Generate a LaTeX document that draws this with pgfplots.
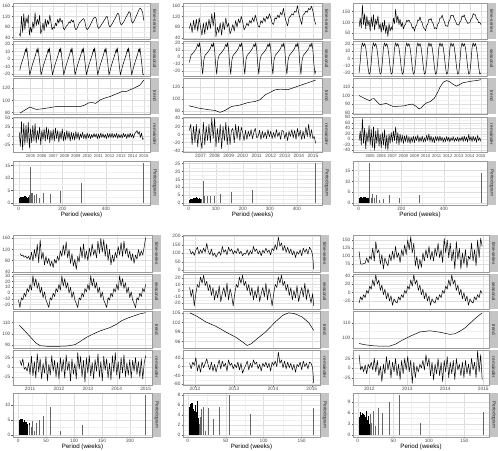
\documentclass[border=0pt]{standalone}
\usepackage{fontspec}
\setmainfont{Liberation Sans}
\usepackage{pgfplots}
\pgfplotsset{compat=1.18}
\pgfplotsset{
 gg/.style={scale only axis, anchor=north west, axis background/.style={fill=white},
  axis line style={black!40, line width=0.4pt},
  grid=both, minor tick num=1,
  major grid style={black!13, line width=0.35pt}, minor grid style={black!6, line width=0.2pt},
  tick pos=left, tick align=outside, major tick length=1.5bp, minor tick length=0pt,
  tick style={black!65, line width=0.35pt},
  /pgf/number format/assume math mode=true,
  /pgf/number format/1000 sep={},
  ticklabel style={font=\fontsize{4.8}{4.8}\selectfont, text=black!70},
  xticklabel style={inner sep=0.7pt}, yticklabel style={inner sep=0.9pt}},
 strip/.style={extra description/.append code={
   \fill[black!23] ([xshift=1.2bp]axis description cs:1,0) rectangle ([xshift=8.6bp]axis description cs:1,1);
   \node[rotate=-90, font=\fontsize{4.7}{4.7}\selectfont, text=black!85, inner sep=0pt] at ([xshift=4.9bp]axis description cs:1,0.5) {#1};}},
 noxt/.style={xticklabels={}, xtick style={draw=none}},
 smallx/.style={xticklabel style={font=\fontsize{4.2}{4.2}\selectfont, inner sep=0.7pt}},
 per/.style={xlabel={Period (weeks)}, xlabel style={font=\fontsize{6.2}{6.2}\selectfont, inner sep=0pt, yshift=-0.3bp}},
 ln/.style={black, line width=0.5bp, line join=round},
 bar/.style={ycomb, black!60, line width=0.6bp},
 blk/.style={ycomb, black, line width=0.45bp},
}
\begin{document}
\begin{tikzpicture}
\useasboundingbox (0,0) rectangle (498bp,451bp);
% ================= Panel A (top-left) =================
\begin{axis}[gg, noxt, strip=time-series, at={(13bp,448bp)}, width=137bp, height=36bp,
 xmin=2003.45, xmax=2015.55, xtick={2005,...,2015}, ymin=35, ymax=171, ytick={40,80,120,160}]
\addplot[ln] coordinates {(2004.0,55)(2004.1,45)(2004.2,120)(2004.3,60)(2004.4,130)(2004.5,70)(2004.6,115)(2004.7,95)(2004.8,125)(2004.9,50)
(2005.0,80)(2005.1,60)(2005.2,100)(2005.3,75)(2005.4,135)(2005.5,85)(2005.6,110)(2005.7,90)(2005.8,125)(2005.9,55)
(2006.0,70)(2006.1,95)(2006.2,65)(2006.3,110)(2006.4,80)(2006.5,105)(2006.6,90)(2006.7,125)(2006.8,100)(2006.9,70)
(2007.0,80)(2007.1,75)(2007.2,95)(2007.3,85)(2007.4,110)(2007.5,95)(2007.6,115)(2007.7,100)(2007.8,105)(2007.9,75)
(2008.0,70)(2008.1,80)(2008.2,85)(2008.3,90)(2008.4,100)(2008.5,95)(2008.6,108)(2008.7,100)(2008.8,105)(2008.9,80)
(2009.0,70)(2009.1,75)(2009.2,85)(2009.3,95)(2009.4,100)(2009.5,105)(2009.6,110)(2009.7,112)(2009.8,100)(2009.9,78)
(2010.0,70)(2010.1,75)(2010.2,82)(2010.3,90)(2010.4,100)(2010.5,108)(2010.6,115)(2010.7,118)(2010.8,112)(2010.9,85)
(2011.0,75)(2011.1,78)(2011.2,85)(2011.3,92)(2011.4,98)(2011.5,105)(2011.6,112)(2011.7,120)(2011.8,118)(2011.9,90)
(2012.0,80)(2012.1,85)(2012.2,92)(2012.3,100)(2012.4,108)(2012.5,115)(2012.6,125)(2012.7,132)(2012.8,128)(2012.9,100)
(2013.0,88)(2013.1,92)(2013.2,98)(2013.3,105)(2013.4,115)(2013.5,122)(2013.6,130)(2013.7,138)(2013.8,135)(2013.9,105)
(2014.0,95)(2014.1,100)(2014.2,108)(2014.3,118)(2014.4,128)(2014.5,138)(2014.6,148)(2014.7,152)(2014.8,145)(2014.9,135)(2015.0,105)};
\end{axis}
\begin{axis}[gg, noxt, strip=seasonal, at={(13bp,410bp)}, width=137bp, height=35bp,
 xmin=2003.45, xmax=2015.55, xtick={2005,...,2015}, ymin=-22.5, ymax=24, ytick={-20,-10,0,10,20}]
\addplot[ln] coordinates {(2004.05,-15)(2004.15,-8)(2004.3,-1)(2004.45,6)(2004.56,13)(2004.61,9)(2004.66,15)(2004.8,-3)(2004.93,-21)
(2005,-17)(2005.15,-8)(2005.3,-1)(2005.45,6)(2005.56,13)(2005.61,9)(2005.66,15)(2005.8,-3)(2005.93,-21)
(2006,-17)(2006.15,-8)(2006.3,-1)(2006.45,6)(2006.56,13)(2006.61,9)(2006.66,15)(2006.8,-3)(2006.93,-21)
(2007,-17)(2007.15,-8)(2007.3,-1)(2007.45,6)(2007.56,13)(2007.61,9)(2007.66,15)(2007.8,-3)(2007.93,-21)
(2008,-17)(2008.15,-8)(2008.3,-1)(2008.45,6)(2008.56,13)(2008.61,9)(2008.66,15)(2008.8,-3)(2008.93,-21)
(2009,-17)(2009.15,-8)(2009.3,-1)(2009.45,6)(2009.56,13)(2009.61,9)(2009.66,15)(2009.8,-3)(2009.93,-21)
(2010,-17)(2010.15,-8)(2010.3,-1)(2010.45,6)(2010.56,13)(2010.61,9)(2010.66,15)(2010.8,-3)(2010.93,-21)
(2011,-17)(2011.15,-8)(2011.3,-1)(2011.45,6)(2011.56,13)(2011.61,9)(2011.66,15)(2011.8,-3)(2011.93,-21)
(2012,-17)(2012.15,-8)(2012.3,-1)(2012.45,6)(2012.56,13)(2012.61,9)(2012.66,15)(2012.8,-3)(2012.93,-21)
(2013,-17)(2013.15,-8)(2013.3,-1)(2013.45,6)(2013.56,13)(2013.61,9)(2013.66,15)(2013.8,-3)(2013.93,-21)
(2014,-17)(2014.15,-8)(2014.3,-1)(2014.45,6)(2014.56,13)(2014.61,9)(2014.66,15)(2014.8,-3)(2014.93,-21)(2015,-20)};
\end{axis}
\begin{axis}[gg, noxt, strip=trend, at={(13bp,373bp)}, width=137bp, height=36bp,
 xmin=2003.45, xmax=2015.55, xtick={2005,...,2015}, ymin=77.5, ymax=137, ytick={80,100,120}]
\addplot[ln] coordinates {(2004.07,79)(2004.5,84)(2004.94,89)(2005.2,87)(2005.52,85)(2006.0,86)(2006.54,87.5)(2007.0,89)(2007.41,90)(2008.4,90.3)(2009.43,90)(2009.8,92.5)(2010.16,96)(2010.45,96.5)(2010.74,95)(2011.17,101)(2011.6,104)(2012.04,106.5)(2012.55,110.5)(2013.06,114.5)(2013.5,115)(2014.1,120)(2014.65,125)(2015.0,133.5)};
\end{axis}
\begin{axis}[gg, smallx, strip=remainder, at={(13bp,334bp)}, width=137bp, height=35bp,
 xmin=2003.45, xmax=2015.55, xtick={2005,...,2015}, ymin=-46, ymax=53.5, ytick={-25,0,25,50}]
\addplot[ln] coordinates {(2004.0,10)(2004.1,-30)(2004.2,40)(2004.3,-40)(2004.4,35)(2004.5,-25)(2004.6,30)(2004.7,-20)(2004.8,38)(2004.9,-35)
(2005.0,20)(2005.1,-20)(2005.2,30)(2005.3,-15)(2005.4,35)(2005.5,-20)(2005.6,15)(2005.7,-10)(2005.8,25)(2005.9,-25)
(2006.0,15)(2006.1,-10)(2006.2,20)(2006.3,-15)(2006.4,25)(2006.5,-10)(2006.6,20)(2006.7,-20)(2006.8,15)(2006.9,-12)
(2007.0,18)(2007.1,-15)(2007.2,22)(2007.3,-8)(2007.4,15)(2007.5,-18)(2007.6,12)(2007.7,-10)(2007.8,20)(2007.9,-15)
(2008.0,10)(2008.1,-12)(2008.2,15)(2008.3,-8)(2008.4,12)(2008.5,-15)(2008.6,10)(2008.7,-10)(2008.8,8)(2008.9,-12)
(2009.0,12)(2009.1,-8)(2009.2,10)(2009.3,-12)(2009.4,6)(2009.5,-5)(2009.6,10)(2009.7,-8)(2009.8,5)(2009.9,-10)
(2010.0,8)(2010.1,-6)(2010.2,5)(2010.3,-8)(2010.4,4)(2010.5,-5)(2010.6,7)(2010.7,-4)(2010.8,6)(2010.9,-8)
(2011.0,5)(2011.1,-7)(2011.2,8)(2011.3,-5)(2011.4,6)(2011.5,-6)(2011.6,4)(2011.7,-8)(2011.8,7)(2011.9,-5)
(2012.0,6)(2012.1,-5)(2012.2,8)(2012.3,-6)(2012.4,5)(2012.5,-4)(2012.6,7)(2012.7,-7)(2012.8,5)(2012.9,-6)
(2013.0,4)(2013.1,-6)(2013.2,7)(2013.3,-3)(2013.4,5)(2013.5,-8)(2013.6,6)(2013.7,-5)(2013.8,8)(2013.9,-4)
(2014.0,5)(2014.1,-6)(2014.2,6)(2014.3,10)(2014.4,15)(2014.5,5)(2014.6,12)(2014.7,-5)(2014.8,8)(2014.9,-10)(2015.0,-8)};
\end{axis}
\begin{axis}[gg, per, strip=Periodogram, at={(13bp,290bp)}, width=137bp, height=44bp,
 xmin=-26.6, xmax=602.6, xtick={0,200,400}, ymin=-0.8, ymax=16.8, ytick={0,5,10,15}]
\addplot[blk] coordinates {(2,1.5)(3,1.8)(4,2)(5,1.2)(6,2.1)(7,1.6)(8,2.2)(9,1.9)(10,1.4)(11,2)(12,1.7)(13,2.3)(14,1.5)(15,2.1)(16,1.8)(17,2.4)(18,1.3)(19,2)(20,2.5)(21,1.6)(22,2.2)(23,1.8)(24,2.6)(25,1.5)(26,2)(27,2.3)(28,1.2)(29,2.1)(30,2.7)(31,1.4)(32,1.9)(33,2.4)(34,1.6)(35,1.1)(36,2)(38,1.5)(40,1.9)(42,1.3)(44,2.2)};
\addplot[bar] coordinates {(47.8,3.3)(52.2,14.5)(57.4,4)(63.8,3.8)(71.75,3.2)(82,3.5)(95.7,2)(114.8,3.8)(143.5,3.7)(191.3,4.8)(287,7.8)(574,16)};
\end{axis}
% ================= Panel B (top-middle) =================
\begin{axis}[gg, noxt, strip=time-series, at={(183bp,448bp)}, width=139bp, height=36bp,
 xmin=2005.75, xmax=2015.65, xtick={2007,...,2015}, ymin=36, ymax=170, ytick={40,80,120,160}]
\addplot[ln] coordinates {(2006.2,75)(2006.3,95)(2006.4,60)(2006.5,105)(2006.6,70)(2006.7,110)(2006.8,65)(2006.9,115)
(2007.0,80)(2007.1,50)(2007.2,95)(2007.3,55)(2007.4,100)(2007.5,70)(2007.6,110)(2007.7,75)(2007.8,130)(2007.9,85)
(2008.0,135)(2008.1,45)(2008.2,80)(2008.3,60)(2008.4,95)(2008.5,50)(2008.6,100)(2008.7,70)(2008.8,115)(2008.9,80)
(2009.0,95)(2009.1,55)(2009.2,70)(2009.3,90)(2009.4,65)(2009.5,105)(2009.6,80)(2009.7,110)(2009.8,95)(2009.9,120)
(2010.0,100)(2010.1,70)(2010.2,80)(2010.3,95)(2010.4,85)(2010.5,105)(2010.6,95)(2010.7,115)(2010.8,100)(2010.9,125)
(2011.0,105)(2011.1,85)(2011.2,80)(2011.3,105)(2011.4,95)(2011.5,115)(2011.6,100)(2011.7,120)(2011.8,110)(2011.9,130)
(2012.0,115)(2012.1,95)(2012.2,90)(2012.3,115)(2012.4,110)(2012.5,125)(2012.6,115)(2012.7,135)(2012.8,125)(2012.9,150)
(2013.0,120)(2013.1,100)(2013.2,85)(2013.3,115)(2013.4,120)(2013.5,130)(2013.6,125)(2013.7,140)(2013.8,135)(2013.9,160)
(2014.0,130)(2014.1,110)(2014.2,90)(2014.3,125)(2014.4,130)(2014.5,140)(2014.6,135)(2014.7,150)(2014.8,145)(2014.9,158)
(2015.0,140)(2015.1,110)(2015.2,90)};
\end{axis}
\begin{axis}[gg, noxt, strip=seasonal, at={(183bp,410bp)}, width=139bp, height=35bp,
 xmin=2005.75, xmax=2015.65, xtick={2007,...,2015}, ymin=-27.5, ymax=22.5, ytick={-20,-10,0,10,20}]
\addplot[ln] coordinates {(2006.2,-8)(2006.32,2)(2006.45,5)(2006.57,8)(2006.7,12)(2006.8,18)(2006.87,14)(2006.93,20)(2007,10)(2007.07,-10)
(2007.15,-25)(2007.23,-5)(2007.32,2)(2007.45,5)(2007.57,8)(2007.7,12)(2007.8,18)(2007.87,14)(2007.93,20)(2008,10)(2008.07,-10)
(2008.15,-25)(2008.23,-5)(2008.32,2)(2008.45,5)(2008.57,8)(2008.7,12)(2008.8,18)(2008.87,14)(2008.93,20)(2009,10)(2009.07,-10)
(2009.15,-25)(2009.23,-5)(2009.32,2)(2009.45,5)(2009.57,8)(2009.7,12)(2009.8,18)(2009.87,14)(2009.93,20)(2010,10)(2010.07,-10)
(2010.15,-25)(2010.23,-5)(2010.32,2)(2010.45,5)(2010.57,8)(2010.7,12)(2010.8,18)(2010.87,14)(2010.93,20)(2011,10)(2011.07,-10)
(2011.15,-25)(2011.23,-5)(2011.32,2)(2011.45,5)(2011.57,8)(2011.7,12)(2011.8,18)(2011.87,14)(2011.93,20)(2012,10)(2012.07,-10)
(2012.15,-25)(2012.23,-5)(2012.32,2)(2012.45,5)(2012.57,8)(2012.7,12)(2012.8,18)(2012.87,14)(2012.93,20)(2013,10)(2013.07,-10)
(2013.15,-25)(2013.23,-5)(2013.32,2)(2013.45,5)(2013.57,8)(2013.7,12)(2013.8,18)(2013.87,14)(2013.93,20)(2014,10)(2014.07,-10)
(2014.15,-25)(2014.23,-5)(2014.32,2)(2014.45,5)(2014.57,8)(2014.7,12)(2014.8,18)(2014.87,14)(2014.93,20)(2015,10)(2015.07,-10)(2015.15,-25)(2015.2,-20)};
\end{axis}
\begin{axis}[gg, noxt, strip=trend, at={(183bp,373bp)}, width=139bp, height=36bp,
 xmin=2005.75, xmax=2015.65, xtick={2007,...,2015}, ymin=75, ymax=135.5, ytick={80,100,120}]
\addplot[ln] coordinates {(2006.18,88.8)(2006.84,85)(2007.55,82.2)(2008.03,81)(2008.39,77.7)(2008.74,81)(2009.22,87.7)(2009.81,90)(2010.4,94.4)(2010.88,96)(2011.23,98.9)(2011.59,107)(2012.3,115.5)(2012.66,116.7)(2013.25,116)(2013.96,122)(2014.67,127.7)(2015.2,132)};
\end{axis}
\begin{axis}[gg, strip=remainder, at={(183bp,334bp)}, width=139bp, height=35bp,
 xmin=2005.75, xmax=2015.65, xtick={2007,...,2015}, ymin=-43, ymax=43, ytick={-40,-20,0,20,40}]
\addplot[ln] coordinates {(2006.2,10)(2006.3,25)(2006.4,-25)(2006.5,20)(2006.6,-20)(2006.7,25)(2006.8,-30)(2006.9,15)
(2007.0,-10)(2007.1,-35)(2007.2,30)(2007.3,-25)(2007.4,20)(2007.5,-15)(2007.6,25)(2007.7,-20)(2007.8,40)(2007.9,-10)
(2008.0,40)(2008.1,-30)(2008.2,15)(2008.3,-20)(2008.4,25)(2008.5,-35)(2008.6,20)(2008.7,-15)(2008.8,30)(2008.9,-25)
(2009.0,20)(2009.1,-25)(2009.2,10)(2009.3,15)(2009.4,-20)(2009.5,25)(2009.6,-10)(2009.7,20)(2009.8,-15)(2009.9,18)
(2010.0,5)(2010.1,-15)(2010.2,10)(2010.3,-12)(2010.4,8)(2010.5,-5)(2010.6,12)(2010.7,-10)(2010.8,6)(2010.9,15)
(2011.0,-8)(2011.1,-5)(2011.2,10)(2011.3,-12)(2011.4,8)(2011.5,-8)(2011.6,6)(2011.7,-10)(2011.8,12)(2011.9,-6)
(2012.0,8)(2012.1,-10)(2012.2,5)(2012.3,-8)(2012.4,12)(2012.5,-5)(2012.6,6)(2012.7,-12)(2012.8,10)(2012.9,8)
(2013.0,-10)(2013.1,5)(2013.2,-15)(2013.3,8)(2013.4,-5)(2013.5,12)(2013.6,-8)(2013.7,10)(2013.8,-12)(2013.9,15)
(2014.0,-5)(2014.1,10)(2014.2,-12)(2014.3,8)(2014.4,-10)(2014.5,18)(2014.6,-5)(2014.7,25)(2014.8,-8)(2014.9,12)
(2015.0,-10)(2015.1,-5)(2015.2,-22)};
\end{axis}
\begin{axis}[gg, per, strip=Periodogram, at={(183bp,290bp)}, width=139bp, height=44bp,
 xmin=-21.4, xmax=493.4, xtick={0,100,200,300,400}, ymin=-1.27, ymax=26.7, ytick={0,5,10,15,20,25}]
\addplot[blk] coordinates {(2,2)(3,1.5)(4,2.4)(5,1.8)(6,2.6)(7,1.2)(8,2.2)(9,2.8)(10,1.6)(11,2.3)(12,1.9)(13,2.7)(14,1.4)(15,2.1)(16,3)(17,1.7)(18,2.5)(19,2)(20,3.4)(21,1.5)(22,2.4)(23,2.9)(24,1.8)(25,2.2)(26,4)(27,1.6)(28,2.6)(29,2.1)(30,3.1)(31,1.5)(32,2.4)(33,2)(34,2.8)(35,1.7)(36,2.3)(38,3.2)(40,2)(42,2.7)};
\addplot[bar] coordinates {(47,2.5)(52.2,14.2)(58.75,4.6)(67.1,4.3)(78.3,4.7)(94,4.2)(117.5,5.5)(156.7,7)(235,8.5)(470,25.4)};
\end{axis}
% ================= Panel C (top-right) =================
\begin{axis}[gg, noxt, strip=time-series, at={(353bp,448bp)}, width=134bp, height=36bp,
 xmin=2003.45, xmax=2015.55, xtick={2005,...,2015}, ymin=24, ymax=189, ytick={50,100,150}]
\addplot[ln] coordinates {(2004.0,80)(2004.1,120)(2004.2,75)(2004.3,180)(2004.4,90)(2004.5,140)(2004.6,70)(2004.7,130)(2004.8,85)(2004.9,110)
(2005.0,60)(2005.1,125)(2005.2,80)(2005.3,135)(2005.4,65)(2005.5,115)(2005.6,90)(2005.7,130)(2005.8,70)(2005.9,95)
(2006.0,55)(2006.1,100)(2006.2,65)(2006.3,110)(2006.4,50)(2006.5,85)(2006.6,35)(2006.7,95)(2006.8,60)(2006.9,80)
(2007.0,65)(2007.1,120)(2007.2,95)(2007.3,160)(2007.4,100)(2007.5,130)(2007.6,90)(2007.7,115)(2007.8,80)(2007.9,100)
(2008.0,70)(2008.1,86)(2008.2,92)(2008.3,110)(2008.4,104)(2008.5,112)(2008.6,100)(2008.7,95)(2008.8,74)(2008.9,78)
(2009.0,60)(2009.1,82)(2009.2,88)(2009.3,112)(2009.4,108)(2009.5,125)(2009.6,105)(2009.7,98)(2009.8,76)(2009.9,72)
(2010.0,62)(2010.1,86)(2010.2,92)(2010.3,114)(2010.4,112)(2010.5,118)(2010.6,100)(2010.7,94)(2010.8,72)(2010.9,76)
(2011.0,70)(2011.1,92)(2011.2,98)(2011.3,120)(2011.4,120)(2011.5,134)(2011.6,114)(2011.7,104)(2011.8,84)(2011.9,84)
(2012.0,82)(2012.1,104)(2012.2,112)(2012.3,134)(2012.4,130)(2012.5,132)(2012.6,116)(2012.7,108)(2012.8,92)(2012.9,90)
(2013.0,88)(2013.1,102)(2013.2,108)(2013.3,130)(2013.4,126)(2013.5,134)(2013.6,114)(2013.7,108)(2013.8,95)(2013.9,98)
(2014.0,98)(2014.1,114)(2014.2,120)(2014.3,140)(2014.4,134)(2014.5,136)(2014.6,116)(2014.7,114)(2014.8,98)(2014.9,100)(2015.0,90)};
\end{axis}
\begin{axis}[gg, noxt, strip=seasonal, at={(353bp,410bp)}, width=134bp, height=35bp,
 xmin=2003.45, xmax=2015.55, xtick={2005,...,2015}, ymin=-24.5, ymax=24.5, ytick={-20,-10,0,10,20}]
\addplot[ln] coordinates {(2004,-20)(2004.1,-5)(2004.2,15)(2004.3,22)(2004.4,17)(2004.5,21)(2004.6,15)(2004.7,3)(2004.8,-12)(2004.9,-22)
(2005,-20)(2005.1,-5)(2005.2,15)(2005.3,22)(2005.4,17)(2005.5,21)(2005.6,15)(2005.7,3)(2005.8,-12)(2005.9,-22)
(2006,-20)(2006.1,-5)(2006.2,15)(2006.3,22)(2006.4,17)(2006.5,21)(2006.6,15)(2006.7,3)(2006.8,-12)(2006.9,-22)
(2007,-20)(2007.1,-5)(2007.2,15)(2007.3,22)(2007.4,17)(2007.5,21)(2007.6,15)(2007.7,3)(2007.8,-12)(2007.9,-22)
(2008,-20)(2008.1,-5)(2008.2,15)(2008.3,22)(2008.4,17)(2008.5,21)(2008.6,15)(2008.7,3)(2008.8,-12)(2008.9,-22)
(2009,-20)(2009.1,-5)(2009.2,15)(2009.3,22)(2009.4,17)(2009.5,21)(2009.6,15)(2009.7,3)(2009.8,-12)(2009.9,-22)
(2010,-20)(2010.1,-5)(2010.2,15)(2010.3,22)(2010.4,17)(2010.5,21)(2010.6,15)(2010.7,3)(2010.8,-12)(2010.9,-22)
(2011,-20)(2011.1,-5)(2011.2,15)(2011.3,22)(2011.4,17)(2011.5,21)(2011.6,15)(2011.7,3)(2011.8,-12)(2011.9,-22)
(2012,-20)(2012.1,-5)(2012.2,15)(2012.3,22)(2012.4,17)(2012.5,21)(2012.6,15)(2012.7,3)(2012.8,-12)(2012.9,-22)
(2013,-20)(2013.1,-5)(2013.2,15)(2013.3,22)(2013.4,17)(2013.5,21)(2013.6,15)(2013.7,3)(2013.8,-12)(2013.9,-22)
(2014,-20)(2014.1,-5)(2014.2,15)(2014.3,22)(2014.4,17)(2014.5,21)(2014.6,15)(2014.7,3)(2014.8,-12)(2014.9,-22)(2015,-20)};
\end{axis}
\begin{axis}[gg, noxt, strip=trend, at={(353bp,373bp)}, width=134bp, height=36bp,
 xmin=2003.45, xmax=2015.55, xtick={2005,...,2015}, ymin=78.5, ymax=120.5, ytick={80,90,100,110}]
\addplot[ln] coordinates {(2004.0,100)(2004.3,98)(2004.6,96)(2004.97,94)(2005.15,96)(2005.35,96.5)(2005.6,93)(2005.86,89.5)(2006.15,90)(2006.45,91)(2006.75,89)(2007.04,87.5)(2007.5,87.5)(2008.07,88)(2008.5,89.5)(2008.81,90)(2009.1,88)(2009.4,84.5)(2009.6,85.5)(2009.84,89)(2010.1,91.5)(2010.43,93)(2010.8,97)(2011.1,104)(2011.31,110)(2011.6,115.5)(2011.9,117.5)(2012.2,116)(2012.5,113)(2012.79,111)(2013.1,113)(2013.38,115)(2013.8,116)(2014.26,117)(2014.6,117.5)(2015.0,118.5)};
\end{axis}
\begin{axis}[gg, smallx, strip=remainder, at={(353bp,334bp)}, width=134bp, height=35bp,
 xmin=2003.45, xmax=2015.55, xtick={2005,...,2015}, ymin=-46, ymax=81, ytick={-40,-20,0,20,40,60,80}]
\addplot[ln] coordinates {(2004.0,-5)(2004.1,30)(2004.2,-20)(2004.3,75)(2004.4,-15)(2004.5,40)(2004.6,-35)(2004.7,25)(2004.8,-10)(2004.9,50)
(2005.0,-20)(2005.1,35)(2005.2,-30)(2005.3,45)(2005.4,-40)(2005.5,30)(2005.6,-15)(2005.7,40)(2005.8,-25)(2005.9,20)
(2006.0,-30)(2006.1,25)(2006.2,-20)(2006.3,35)(2006.4,-35)(2006.5,15)(2006.6,-40)(2006.7,20)(2006.8,-15)(2006.9,25)
(2007.0,-10)(2007.1,30)(2007.2,-5)(2007.3,45)(2007.4,-15)(2007.5,25)(2007.6,-20)(2007.7,20)(2007.8,-10)(2007.9,15)
(2008.0,-15)(2008.1,12)(2008.2,-8)(2008.3,15)(2008.4,-12)(2008.5,10)(2008.6,-15)(2008.7,8)(2008.8,-10)(2008.9,12)
(2009.0,-12)(2009.1,10)(2009.2,-5)(2009.3,15)(2009.4,-10)(2009.5,8)(2009.6,-8)(2009.7,12)(2009.8,-10)(2009.9,6)
(2010.0,-8)(2010.1,15)(2010.2,-5)(2010.3,20)(2010.4,-8)(2010.5,12)(2010.6,-10)(2010.7,8)(2010.8,-12)(2010.9,10)
(2011.0,-5)(2011.1,10)(2011.2,-8)(2011.3,12)(2011.4,-6)(2011.5,8)(2011.6,-10)(2011.7,6)(2011.8,-8)(2011.9,10)
(2012.0,-6)(2012.1,8)(2012.2,-10)(2012.3,6)(2012.4,-5)(2012.5,10)(2012.6,-8)(2012.7,5)(2012.8,-6)(2012.9,8)
(2013.0,-8)(2013.1,6)(2013.2,-5)(2013.3,10)(2013.4,-8)(2013.5,12)(2013.6,-6)(2013.7,8)(2013.8,-10)(2013.9,18)
(2014.0,-5)(2014.1,10)(2014.2,-8)(2014.3,12)(2014.4,-6)(2014.5,8)(2014.6,-10)(2014.7,14)(2014.8,-5)(2014.9,6)(2015.0,-8)};
\end{axis}
\begin{axis}[gg, per, strip=Periodogram, at={(353bp,290bp)}, width=134bp, height=44bp,
 xmin=-26.6, xmax=602.6, xtick={0,200,400}, ymin=-0.93, ymax=19.43, ytick={0,5,10,15}]
\addplot[blk] coordinates {(2,1.8)(3,2.2)(4,1.4)(5,2.5)(6,1.9)(7,2.3)(8,1.2)(9,2.6)(10,2)(11,1.5)(12,2.4)(13,1.8)(14,2.7)(15,1.3)(16,2.2)(17,1.9)(18,2.5)(19,1.6)(20,2.3)(21,2.8)(22,1.4)(23,2.1)(24,2.6)(25,1.7)(26,2.2)(27,1.9)(28,2.4)(29,1.5)(30,2.7)(31,2)(32,1.6)(33,2.3)(34,1.8)(36,2.5)(38,1.4)(40,2.1)(42,1.7)(44,2.4)};
\addplot[bar] coordinates {(47.8,2.2)(52.2,18.5)(57.4,2.5)(63.8,4.3)(71.75,2.5)(82,3.5)(95.7,1.5)(114.8,2)(143.5,3.7)(191.3,2.5)(287,3.5)(574,14)};
\end{axis}
% ================= Panel D (bottom-left) =================
\begin{axis}[gg, noxt, strip=time-series, at={(13bp,216bp)}, width=139bp, height=37bp,
 xmin=2010.41, xmax=2015.22, xtick={2011,...,2015}, ymin=39, ymax=172, ytick={40,80,120,160}]
\addplot[ln] coordinates {(2010.65,105)(2010.70,98)(2010.75,100)(2010.80,92)(2010.85,96)(2010.90,88)(2010.95,95)
(2011.00,82)(2011.05,110)(2011.10,78)(2011.15,120)(2011.20,90)(2011.25,138)(2011.30,72)(2011.35,155)(2011.40,85)(2011.45,110)(2011.50,65)(2011.55,95)(2011.60,70)(2011.65,88)(2011.70,60)(2011.75,78)(2011.80,55)(2011.85,85)(2011.90,70)(2011.95,95)
(2012.00,80)(2012.05,115)(2012.10,95)(2012.15,135)(2012.20,100)(2012.25,148)(2012.30,90)(2012.35,120)(2012.40,70)(2012.45,105)(2012.50,60)(2012.55,85)(2012.60,48)(2012.65,95)(2012.70,75)(2012.75,130)(2012.80,90)(2012.85,140)(2012.90,85)(2012.95,115)
(2013.00,80)(2013.05,125)(2013.10,95)(2013.15,140)(2013.20,100)(2013.25,120)(2013.30,90)(2013.35,150)(2013.40,105)(2013.45,160)(2013.50,110)(2013.55,155)(2013.60,95)(2013.65,140)(2013.70,80)(2013.75,120)(2013.80,65)(2013.85,100)(2013.90,75)(2013.95,110)
(2014.00,90)(2014.05,130)(2014.10,100)(2014.15,145)(2014.20,95)(2014.25,150)(2014.30,105)(2014.35,125)(2014.40,90)(2014.45,115)(2014.50,80)(2014.55,105)(2014.60,70)(2014.65,100)(2014.70,85)(2014.75,120)(2014.80,95)(2014.85,115)(2014.90,100)(2014.95,130)(2015.00,162)};
\end{axis}
\begin{axis}[gg, noxt, strip=seasonal, at={(13bp,177bp)}, width=139bp, height=35bp,
 xmin=2010.41, xmax=2015.22, xtick={2011,...,2015}, ymin=-27.5, ymax=33, ytick={-20,-10,0,10,20,30}]
\addplot[ln] coordinates {(2010.60,-12)(2010.65,-25)(2010.70,-8)(2010.75,-12)(2010.80,0)(2010.85,-6)(2010.90,8)(2010.95,2)(2011.00,15)(2011.05,5)(2011.10,30)(2011.15,12)(2011.20,25)(2011.25,8)(2011.30,18)(2011.35,0)(2011.40,10)(2011.45,-8)(2011.50,2)(2011.55,-12)(2011.60,-18)
(2011.65,-25)(2011.70,-8)(2011.75,-12)(2011.80,0)(2011.85,-6)(2011.90,8)(2011.95,2)(2012.00,15)(2012.05,5)(2012.10,30)(2012.15,12)(2012.20,25)(2012.25,8)(2012.30,18)(2012.35,0)(2012.40,10)(2012.45,-8)(2012.50,2)(2012.55,-12)(2012.60,-18)
(2012.65,-25)(2012.70,-8)(2012.75,-12)(2012.80,0)(2012.85,-6)(2012.90,8)(2012.95,2)(2013.00,15)(2013.05,5)(2013.10,30)(2013.15,12)(2013.20,25)(2013.25,8)(2013.30,18)(2013.35,0)(2013.40,10)(2013.45,-8)(2013.50,2)(2013.55,-12)(2013.60,-18)
(2013.65,-25)(2013.70,-8)(2013.75,-12)(2013.80,0)(2013.85,-6)(2013.90,8)(2013.95,2)(2014.00,15)(2014.05,5)(2014.10,30)(2014.15,12)(2014.20,25)(2014.25,8)(2014.30,18)(2014.35,0)(2014.40,10)(2014.45,-8)(2014.50,2)(2014.55,-12)(2014.60,-18)
(2014.65,-25)(2014.70,-8)(2014.75,-12)(2014.80,0)(2014.85,-6)(2014.90,8)(2014.95,2)(2015.00,15)};
\end{axis}
\begin{axis}[gg, noxt, strip=trend, at={(13bp,140bp)}, width=139bp, height=37bp,
 xmin=2010.41, xmax=2015.22, xtick={2011,...,2015}, ymin=87.5, ymax=120, ytick={90,100,110}]
\addplot[ln] coordinates {(2010.63,107.5)(2010.8,103)(2011.0,97.5)(2011.2,92)(2011.35,89.5)(2011.6,89)(2012.0,89)(2012.3,89.3)(2012.56,90.5)(2012.75,93.5)(2012.96,97)(2013.2,100)(2013.42,102.5)(2013.77,105.5)(2014.0,108.5)(2014.17,111.5)(2014.4,114)(2014.57,115.5)(2014.8,117.5)(2015.0,118.5)};
\end{axis}
\begin{axis}[gg, strip=remainder, at={(13bp,101bp)}, width=139bp, height=35bp,
 xmin=2010.41, xmax=2015.22, xtick={2011,...,2015}, ymin=-45.5, ymax=44.7, ytick={-25,0,25}]
\addplot[ln] coordinates {(2010.65,18)(2010.70,5)(2010.75,22)(2010.80,-5)(2010.85,0)(2010.90,-10)(2010.95,12)
(2011.00,-18)(2011.05,28)(2011.10,-22)(2011.15,15)(2011.20,-28)(2011.25,35)(2011.30,-12)(2011.35,22)(2011.40,-30)(2011.45,10)(2011.50,-15)(2011.55,28)(2011.60,-35)(2011.65,8)(2011.70,-20)(2011.75,30)(2011.80,-10)(2011.85,18)(2011.90,-25)(2011.95,12)
(2012.00,-30)(2012.05,25)(2012.10,-12)(2012.15,20)(2012.20,-28)(2012.25,32)(2012.30,-8)(2012.35,15)(2012.40,-35)(2012.45,22)(2012.50,-18)(2012.55,10)(2012.60,-30)(2012.65,38)(2012.70,-5)(2012.75,28)(2012.80,-25)(2012.85,18)(2012.90,-38)(2012.95,25)
(2013.00,-15)(2013.05,30)(2013.10,-22)(2013.15,12)(2013.20,-30)(2013.25,20)(2013.30,-10)(2013.35,35)(2013.40,-25)(2013.45,15)(2013.50,-35)(2013.55,28)(2013.60,-8)(2013.65,22)(2013.70,-28)(2013.75,10)(2013.80,-32)(2013.85,30)(2013.90,-12)(2013.95,38)
(2014.00,-20)(2014.05,15)(2014.10,-30)(2014.15,25)(2014.20,-15)(2014.25,32)(2014.30,-25)(2014.35,12)(2014.40,-20)(2014.45,20)(2014.50,-28)(2014.55,18)(2014.60,-10)(2014.65,25)(2014.70,-18)(2014.75,15)(2014.80,-25)(2014.85,22)(2014.90,-30)(2014.95,10)(2015.00,30)};
\end{axis}
\begin{axis}[gg, per, strip=Periodogram, at={(13bp,58bp)}, width=139bp, height=44bp,
 xmin=-9.3, xmax=239.3, xtick={0,50,100,150,200}, ymin=-0.67, ymax=14.07, ytick={0,5,10}]
\addplot[blk] coordinates {(2,3)(2.5,5)(3,4.5)(3.5,5.5)(4,2)(4.5,5.2)(5,3.5)(5.5,5.5)(6,1.8)(6.5,4.8)(7,3)(7.5,5.3)(8,2.5)(8.5,4.5)(9,3.8)(10,5)(11,2)(12,4.2)(13,3)(14,4.5)(15,1.5)(16,3.8)(17,2.5)(19,4)};
\addplot[bar] coordinates {(20.7,3.4)(22.8,2.8)(25.3,4.6)(28.5,1.5)(32.6,4)(38,5)(45.6,6.5)(57,9.5)(76,1.5)(114,3.3)(228,13.4)};
\end{axis}
% ================= Panel E (bottom-middle) =================
\begin{axis}[gg, noxt, strip=time-series, at={(183bp,216bp)}, width=137bp, height=37bp,
 xmin=2011.69, xmax=2015.21, xtick={2012,...,2015}, ymin=-10, ymax=207, ytick={0,50,100,150,200}]
\addplot[ln] coordinates {(2011.86,125)(2011.90,95)(2011.94,110)(2011.98,88)
(2012.02,118)(2012.06,135)(2012.10,95)(2012.14,120)(2012.18,100)(2012.22,130)(2012.26,105)(2012.30,158)(2012.34,110)(2012.38,92)(2012.42,125)(2012.46,85)(2012.50,100)(2012.54,78)(2012.58,95)(2012.62,110)(2012.66,88)(2012.70,140)(2012.74,105)(2012.78,120)(2012.82,90)(2012.86,135)(2012.90,110)(2012.94,125)(2012.98,95)
(2013.02,115)(2013.06,100)(2013.10,130)(2013.14,98)(2013.18,112)(2013.22,85)(2013.26,100)(2013.30,95)(2013.34,120)(2013.38,88)(2013.42,115)(2013.46,95)(2013.50,140)(2013.54,110)(2013.58,125)(2013.62,95)(2013.66,115)(2013.70,85)(2013.74,118)(2013.78,102)(2013.82,130)(2013.86,105)(2013.90,120)(2013.94,90)(2013.98,128)
(2014.02,115)(2014.06,150)(2014.10,120)(2014.14,195)(2014.18,140)(2014.22,160)(2014.26,115)(2014.30,145)(2014.34,105)(2014.38,135)(2014.42,100)(2014.46,125)(2014.50,90)(2014.54,115)(2014.58,75)(2014.62,110)(2014.66,95)(2014.70,120)(2014.74,85)(2014.78,130)(2014.82,105)(2014.86,125)(2014.90,95)(2014.94,135)(2014.98,120)(2015.02,90)(2015.05,5)};
\end{axis}
\begin{axis}[gg, noxt, strip=seasonal, at={(183bp,177bp)}, width=137bp, height=35bp,
 xmin=2011.69, xmax=2015.21, xtick={2012,...,2015}, ymin=-30, ymax=27, ytick={-20,-10,0,10,20}]
\addplot[ln] coordinates {(2011.86,5)(2011.90,-10)(2011.94,2)
(2011.98,-25)(2012.02,-5)(2012.06,10)(2012.10,5)(2012.14,22)(2012.18,12)(2012.22,25)(2012.26,8)(2012.30,15)(2012.34,0)(2012.38,10)(2012.42,-8)(2012.46,5)(2012.50,-15)(2012.54,0)(2012.58,-12)(2012.62,8)(2012.66,-18)(2012.70,-5)(2012.74,5)(2012.78,-10)(2012.82,12)(2012.86,-15)(2012.90,3)(2012.94,-8)
(2012.98,-25)(2013.02,-5)(2013.06,10)(2013.10,5)(2013.14,22)(2013.18,12)(2013.22,25)(2013.26,8)(2013.30,15)(2013.34,0)(2013.38,10)(2013.42,-8)(2013.46,5)(2013.50,-15)(2013.54,0)(2013.58,-12)(2013.62,8)(2013.66,-18)(2013.70,-5)(2013.74,5)(2013.78,-10)(2013.82,12)(2013.86,-15)(2013.90,3)(2013.94,-8)
(2013.98,-25)(2014.02,-5)(2014.06,10)(2014.10,5)(2014.14,22)(2014.18,12)(2014.22,25)(2014.26,8)(2014.30,15)(2014.34,0)(2014.38,10)(2014.42,-8)(2014.46,5)(2014.50,-15)(2014.54,0)(2014.58,-12)(2014.62,8)(2014.66,-18)(2014.70,-5)(2014.74,5)(2014.78,-10)(2014.82,12)(2014.86,-15)(2014.90,3)(2014.94,-8)
(2014.98,-20)(2015.02,-5)(2015.05,-25)};
\end{axis}
\begin{axis}[gg, noxt, strip=trend, at={(183bp,140bp)}, width=137bp, height=37bp,
 xmin=2011.69, xmax=2015.21, xtick={2012,...,2015}, ymin=93.9, ymax=105.7, ytick={96,99,102,105}]
\addplot[ln] coordinates {(2011.87,105.1)(2012.05,104)(2012.28,102.2)(2012.54,100.8)(2012.79,99)(2013.05,97.3)(2013.2,96)(2013.34,94.7)(2013.45,95.3)(2013.56,96.5)(2013.81,99)(2014.07,102.3)(2014.25,104.3)(2014.4,105.1)(2014.55,104.9)(2014.75,103.8)(2014.92,102)(2015.05,99.5)};
\end{axis}
\begin{axis}[gg, strip=remainder, at={(183bp,101bp)}, width=137bp, height=35bp,
 xmin=2011.69, xmax=2015.21, xtick={2012,...,2015}, ymin=-83, ymax=74.7, ytick={-80,-40,0,40}]
\addplot[ln] coordinates {(2011.86,15)(2011.90,-10)(2011.94,20)(2011.98,5)
(2012.02,40)(2012.06,-20)(2012.10,10)(2012.14,-25)(2012.18,20)(2012.22,-5)(2012.26,15)(2012.30,35)(2012.34,5)(2012.38,-15)(2012.42,20)(2012.46,-20)(2012.50,10)(2012.54,-25)(2012.58,5)(2012.62,30)(2012.66,-10)(2012.70,25)(2012.74,0)(2012.78,15)(2012.82,-20)(2012.86,30)(2012.90,5)(2012.94,15)(2012.98,-10)
(2013.02,10)(2013.06,-5)(2013.10,20)(2013.14,-15)(2013.18,15)(2013.22,-30)(2013.26,-10)(2013.30,5)(2013.34,25)(2013.38,-15)(2013.42,15)(2013.46,-5)(2013.50,30)(2013.54,10)(2013.58,20)(2013.62,-10)(2013.66,10)(2013.70,-20)(2013.74,15)(2013.78,0)(2013.82,20)(2013.86,-5)(2013.90,15)(2013.94,-20)(2013.98,20)
(2014.02,5)(2014.06,25)(2014.10,0)(2014.14,65)(2014.18,15)(2014.22,30)(2014.26,-5)(2014.30,25)(2014.34,-10)(2014.38,20)(2014.42,-5)(2014.46,15)(2014.50,-15)(2014.54,10)(2014.58,-25)(2014.62,10)(2014.66,0)(2014.70,20)(2014.74,-15)(2014.78,25)(2014.82,0)(2014.86,15)(2014.90,-10)(2014.94,20)(2014.98,15)(2015.02,-5)(2015.05,-75)};
\end{axis}
\begin{axis}[gg, per, strip=Periodogram, at={(183bp,58bp)}, width=137bp, height=44bp,
 xmin=-6.2, xmax=174.2, xtick={0,50,100,150}, ymin=-0.4, ymax=8.4, ytick={0,2,4,6,8}]
\addplot[blk] coordinates {(2,5.6)(2.5,4)(3,5.8)(3.5,6.2)(4,3)(4.5,6.3)(5,4.5)(5.5,5.6)(6,2.5)(6.5,6.4)(7,3.8)(7.5,5.2)(8,1.5)(8.5,4.8)(9,3.5)(9.5,5.9)(10,2)(10.5,3.3)(11,4.6)(11.9,2.6)(12.8,6.8)(13.8,3.4)};
\addplot[bar] coordinates {(15.1,2.2)(16.6,3.5)(18.4,5.2)(20.75,5.5)(23.7,0.7)(27.7,5.3)(33.2,3.2)(41.5,5.6)(55.3,8)(83,4.1)(166,5.3)};
\end{axis}
% ================= Panel F (bottom-right) =================
\begin{axis}[gg, noxt, strip=time-series, at={(353bp,216bp)}, width=136bp, height=37bp,
 xmin=2011.57, xmax=2015.15, xtick={2012,...,2015}, ymin=51, ymax=165.4, ytick={75,100,125,150}]
\addplot[ln] coordinates {(2011.73,115)(2011.77,76)(2011.81,75)(2011.85,77)(2011.89,78)(2011.93,95)(2011.97,80)
(2012.01,100)(2012.05,90)(2012.09,125)(2012.13,85)(2012.17,145)(2012.21,110)(2012.25,120)(2012.29,75)(2012.33,105)(2012.37,60)(2012.41,95)(2012.45,80)(2012.49,70)(2012.53,105)(2012.57,85)(2012.61,115)(2012.65,90)(2012.69,130)(2012.73,95)(2012.77,110)(2012.81,80)(2012.85,120)(2012.89,100)(2012.93,135)(2012.97,105)
(2013.01,150)(2013.05,120)(2013.09,160)(2013.13,110)(2013.17,140)(2013.21,70)(2013.25,100)(2013.29,60)(2013.33,90)(2013.37,65)(2013.41,110)(2013.45,85)(2013.49,120)(2013.53,95)(2013.57,130)(2013.61,90)(2013.65,115)(2013.69,85)(2013.73,125)(2013.77,100)(2013.81,140)(2013.85,95)(2013.89,120)(2013.93,80)(2013.97,155)
(2014.01,110)(2014.05,150)(2014.09,95)(2014.13,140)(2014.17,85)(2014.21,120)(2014.25,60)(2014.29,145)(2014.33,90)(2014.37,125)(2014.41,60)(2014.45,110)(2014.49,75)(2014.53,120)(2014.57,65)(2014.61,100)(2014.65,90)(2014.69,140)(2014.73,85)(2014.77,120)(2014.81,70)(2014.85,150)(2014.89,95)(2014.93,155)(2014.97,130)};
\end{axis}
\begin{axis}[gg, noxt, strip=seasonal, at={(353bp,177bp)}, width=136bp, height=35bp,
 xmin=2011.57, xmax=2015.15, xtick={2012,...,2015}, ymin=-39, ymax=44, ytick={-20,0,20,40}]
\addplot[ln] coordinates {(2011.73,-25)(2011.77,-10)(2011.81,-18)(2011.85,-5)(2011.89,-12)(2011.93,5)(2011.97,-2)(2012.01,15)(2012.05,8)(2012.09,30)(2012.13,15)(2012.17,42)(2012.21,20)(2012.25,30)(2012.29,5)(2012.33,18)(2012.37,-5)(2012.41,8)(2012.45,-15)(2012.49,0)(2012.53,-20)(2012.57,-8)(2012.61,-30)(2012.65,-15)(2012.69,-22)
(2012.73,-25)(2012.77,-10)(2012.81,-18)(2012.85,-5)(2012.89,-12)(2012.93,5)(2012.97,-2)(2013.01,15)(2013.05,8)(2013.09,30)(2013.13,15)(2013.17,42)(2013.21,20)(2013.25,30)(2013.29,5)(2013.33,18)(2013.37,-5)(2013.41,8)(2013.45,-15)(2013.49,0)(2013.53,-20)(2013.57,-8)(2013.61,-30)(2013.65,-15)(2013.69,-22)
(2013.73,-25)(2013.77,-10)(2013.81,-18)(2013.85,-5)(2013.89,-12)(2013.93,5)(2013.97,-2)(2014.01,15)(2014.05,8)(2014.09,30)(2014.13,15)(2014.17,42)(2014.21,20)(2014.25,30)(2014.29,5)(2014.33,18)(2014.37,-5)(2014.41,8)(2014.45,-15)(2014.49,0)(2014.53,-20)(2014.57,-8)(2014.61,-30)(2014.65,-15)(2014.69,-22)
(2014.73,-25)(2014.77,-10)(2014.81,-18)(2014.85,-5)(2014.89,-12)(2014.93,5)(2014.97,-2)};
\end{axis}
\begin{axis}[gg, noxt, strip=trend, at={(353bp,140bp)}, width=136bp, height=37bp,
 xmin=2011.57, xmax=2015.15, xtick={2012,...,2015}, ymin=93.5, ymax=118.2, ytick={100,110}]
\addplot[ln] coordinates {(2011.73,96.5)(2011.9,95.6)(2012.1,95)(2012.3,94.7)(2012.54,94.8)(2012.7,96.2)(2012.85,98.5)(2013.07,101.3)(2013.33,104.2)(2013.6,105)(2013.86,104)(2014.12,102.6)(2014.25,103)(2014.39,104.8)(2014.52,107)(2014.65,110)(2014.8,113.5)(2014.97,117)};
\end{axis}
\begin{axis}[gg, strip=remainder, at={(353bp,101bp)}, width=136bp, height=35bp,
 xmin=2011.57, xmax=2015.15, xtick={2012,...,2015}, ymin=-44, ymax=47, ytick={-25,0,25}]
\addplot[ln] coordinates {(2011.73,35)(2011.77,-5)(2011.81,5)(2011.85,-10)(2011.89,8)(2011.93,-15)(2011.97,10)
(2012.01,0)(2012.05,15)(2012.09,-5)(2012.13,25)(2012.17,-10)(2012.21,20)(2012.25,-20)(2012.29,5)(2012.33,-35)(2012.37,10)(2012.41,-15)(2012.45,30)(2012.49,-5)(2012.53,20)(2012.57,-25)(2012.61,15)(2012.65,-10)(2012.69,25)(2012.73,-20)(2012.77,10)(2012.81,-30)(2012.85,20)(2012.89,-15)(2012.93,25)(2012.97,-5)
(2013.01,30)(2013.05,-10)(2013.09,20)(2013.13,-40)(2013.17,15)(2013.21,-25)(2013.25,5)(2013.29,-10)(2013.33,10)(2013.37,0)(2013.41,20)(2013.45,-5)(2013.49,35)(2013.53,5)(2013.57,25)(2013.61,-20)(2013.65,15)(2013.69,-30)(2013.73,10)(2013.77,-15)(2013.81,25)(2013.85,-20)(2013.89,15)(2013.93,-35)(2013.97,20)
(2014.01,-10)(2014.05,30)(2014.09,-25)(2014.13,15)(2014.17,-15)(2014.21,20)(2014.25,-30)(2014.29,25)(2014.33,-5)(2014.37,10)(2014.41,-20)(2014.45,15)(2014.49,-25)(2014.53,20)(2014.57,-15)(2014.61,10)(2014.65,-20)(2014.69,25)(2014.73,-5)(2014.77,15)(2014.81,-25)(2014.85,45)(2014.89,-10)(2014.93,35)(2014.97,-30)};
\end{axis}
\begin{axis}[gg, per, strip=Periodogram, at={(353bp,58bp)}, width=136bp, height=44bp,
 xmin=-6.7, xmax=184.7, xtick={0,50,100,150}, ymin=-0.54, ymax=11.35, ytick={0,3,6,9}]
\addplot[blk] coordinates {(2,4.8)(2.5,3)(3,5.2)(3.5,4)(4,6.3)(4.5,2.5)(5,5.5)(5.5,3.8)(6,6)(6.5,2)(7,4.5)(7.5,5.8)(8,1.8)(8.5,4.2)(9,3.2)(9.5,5.5)(10,2.4)(10.5,4.8)(11,3.5)(11.7,6.4)(12.6,2.8)(13.5,4)(14.7,5.2)(16,3)};
\addplot[bar] coordinates {(17.6,5.8)(19.6,3.2)(22,6.5)(25.1,2.4)(29.3,7.4)(35.2,6)(44,8.8)(58.7,10.8)(88,3.2)(176,6.1)};
\end{axis}
\end{tikzpicture}
\end{document}
